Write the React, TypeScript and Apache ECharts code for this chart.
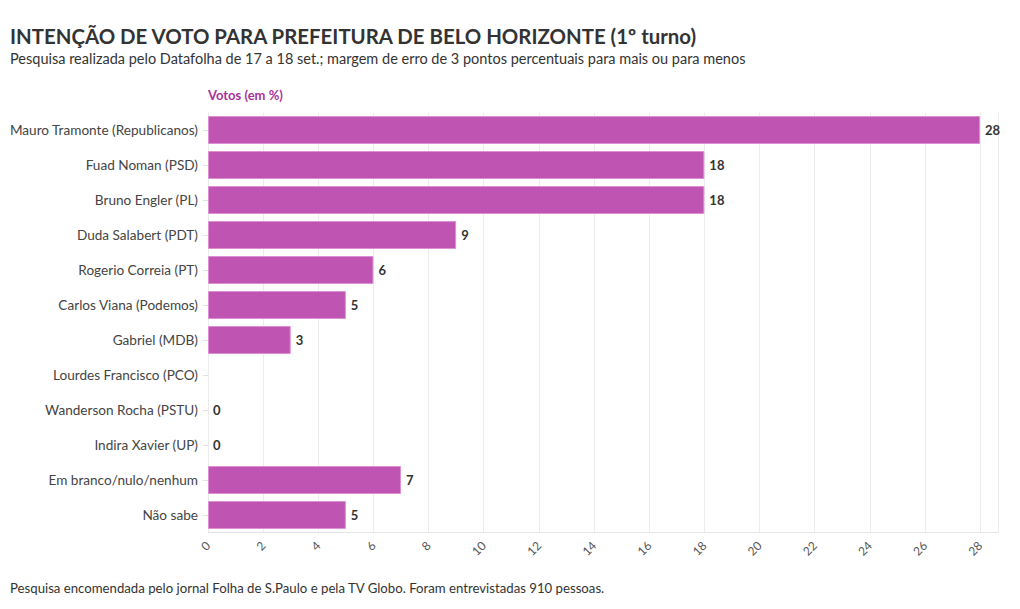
import React, { useEffect, useRef } from "react";
import * as echarts from "echarts";

const categories = [
  "Mauro Tramonte (Republicanos)",
  "Fuad Noman (PSD)",
  "Bruno Engler (PL)",
  "Duda Salabert (PDT)",
  "Rogerio Correia (PT)",
  "Carlos Viana (Podemos)",
  "Gabriel (MDB)",
  "Lourdes Francisco (PCO)",
  "Wanderson Rocha (PSTU)",
  "Indira Xavier (UP)",
  "Em branco/nulo/nenhum",
  "Não sabe",
];
const votes: (number | null)[] = [28, 18, 18, 9, 6, 5, 3, null, 0, 0, 7, 5];

const title = "INTENÇÃO DE VOTO PARA PREFEITURA DE BELO HORIZONTE (1º turno)";
const subtitle = "Pesquisa realizada pelo Datafolha de 17 a 18 set.; margem de erro de 3 pontos percentuais para mais ou para menos";
const footer = "Pesquisa encomendada pelo jornal Folha de S.Paulo e pela TV Globo. Foram entrevistadas 910 pessoas.";
const axisName = "Votos (em %)";

const FONT = "Lato, 'Noto Sans', sans-serif";

export default function App() {
  const ref = useRef<HTMLDivElement>(null);
  useEffect(() => {
    const chart = echarts.init(ref.current!, null, { renderer: "svg" });
    const seriesData = votes.map((v) => ({
      value: v,
      itemStyle: { borderWidth: v ? 1 : 0 },
    }));
    chart.setOption({
      animation: false,
      backgroundColor: "#ffffff",
      textStyle: { fontFamily: FONT },
      title: [
        {
          text: title,
          left: 10,
          top: 26,
          padding: 0,
          textStyle: { fontFamily: FONT, fontSize: 20.4, fontWeight: "bold", color: "#333333" },
        },
        {
          text: subtitle,
          left: 10,
          top: 51,
          padding: 0,
          textStyle: { fontFamily: FONT, fontSize: 14.5, fontWeight: "normal", color: "#333333" },
        },
        {
          text: footer,
          left: 10,
          top: 581,
          padding: 0,
          textStyle: { fontFamily: FONT, fontSize: 13.2, fontWeight: "normal", color: "#333333" },
        },
        {
          text: axisName,
          left: 208,
          top: 88,
          padding: 0,
          textStyle: { fontFamily: FONT, fontSize: 13, fontWeight: "bold", color: "#a8329c" },
        },
      ],
      grid: { left: 208, right: 22, top: 112.5, bottom: 76.5, containLabel: false },
      xAxis: {
        type: "value",
        min: 0,
        max: 28.65,
        interval: 2,
        axisLine: { show: true, lineStyle: { color: "#e6e6e6" } },
        axisTick: { show: false },
        splitLine: { show: true, lineStyle: { color: "#ececec" } },
        axisLabel: {
          rotate: 45,
          showMaxLabel: false,
          color: "#555555",
          fontSize: 12,
          fontFamily: FONT,
          margin: 11,
        },
      },
      yAxis: {
        type: "category",
        data: categories,
        inverse: true,
        axisLine: { show: false },
        axisTick: { show: true, length: 5, alignWithLabel: true, lineStyle: { color: "#e0e0e0" } },
        axisLabel: { color: "#444444", fontSize: 13.6, fontFamily: FONT, margin: 10 },
        splitLine: { show: false },
      },
      series: [
        {
          type: "bar",
          data: seriesData,
          barWidth: 28,
          itemStyle: { color: "#c054b3", borderColor: "#dc8fd2", borderWidth: 1 },
          label: {
            show: true,
            position: "right",
            distance: 5,
            color: "#333333",
            fontWeight: "bold",
            fontSize: 13,
            fontFamily: FONT,
          },
        },
      ],
    });
    return () => chart.dispose();
  }, []);
  return (
    <div
      ref={ref}
      style={{ position: "fixed", left: 0, top: 0, width: 1020, height: 609 }}
    />
  );
}
